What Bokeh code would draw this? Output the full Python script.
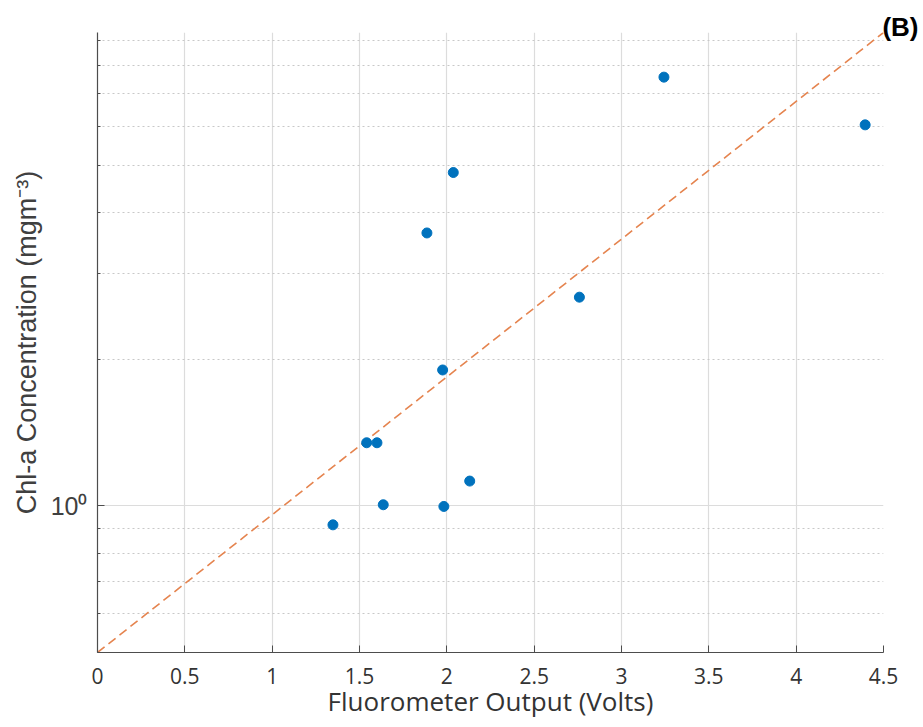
from bokeh.plotting import figure
from bokeh.models import FixedTicker, Range1d, Title
from bokeh.embed import file_html
from bokeh.resources import INLINE

# ---- data ----
volts = [1.348, 1.541, 1.600, 1.636, 1.886, 1.976, 1.983, 2.037, 2.131, 2.759, 3.243, 4.395]
chla = [0.914, 1.347, 1.347, 1.005, 3.63, 1.90, 0.997, 4.83, 1.124, 2.68, 7.58, 6.05]

ref_x = [0.0, 4.5]
ref_y = [0.5, 9.36]

x_ticks = [0, 0.5, 1, 1.5, 2, 2.5, 3, 3.5, 4, 4.5]
x_tick_labels = ["0", "0.5", "1", "1.5", "2", "2.5", "3", "3.5", "4", "4.5"]
y_ticks = [1.0]
y_tick_labels = ["10\u2070"]
y_minor = [0.5, 0.6, 0.7, 0.8, 0.9, 2, 3, 4, 5, 6, 7, 8, 9]

x_title = "Fluorometer Output (Volts)"
y_title = "Chl-a Concentration (mgm\u207b\u00b3)"
panel_tag = "(B)"

p = figure(width=923, height=727, y_axis_type="log",
           x_range=Range1d(0, 4.5), y_range=Range1d(0.5, 9.36),
           output_backend="svg", toolbar_location=None)
p.min_border_left = 97
p.min_border_right = 40
p.min_border_top = 32
p.min_border_bottom = 75
p.outline_line_color = None
p.background_fill_color = "white"
p.border_fill_color = "white"

# panel tag as a right-aligned title
p.title = Title(text=panel_tag, align="right", offset=-35, standoff=-18,
                text_font="Liberation Sans", text_font_size="26px",
                text_font_style="bold", text_color="black")

# tickers
xt = FixedTicker(ticks=x_ticks, minor_ticks=[])
yt = FixedTicker(ticks=y_ticks, minor_ticks=y_minor)
p.xaxis.ticker = xt
p.xgrid.ticker = xt
p.yaxis.ticker = yt
p.ygrid.ticker = yt
p.xaxis.major_label_overrides = {t: l for t, l in zip(x_ticks, x_tick_labels)}
p.yaxis.major_label_overrides = {t: l for t, l in zip(y_ticks, y_tick_labels)}

axis_col = "#4d4d4d"
for ax in (p.xaxis, p.yaxis):
    ax.axis_line_color = axis_col
    ax.axis_line_width = 1.2
    ax.major_tick_line_color = axis_col
    ax.minor_tick_line_color = axis_col
    ax.major_tick_in = 7
    ax.major_tick_out = 0
    ax.minor_tick_out = 0

p.xaxis.minor_tick_in = 0
p.yaxis.minor_tick_in = 3

p.xaxis.major_label_text_font = "Open Sans"
p.xaxis.major_label_text_font_size = "21px"
p.xaxis.major_label_text_color = "#333333"
p.xaxis.major_label_standoff = 15
p.xaxis.axis_label = x_title
p.xaxis.axis_label_text_font = "Open Sans"
p.xaxis.axis_label_text_font_size = "26px"
p.xaxis.axis_label_text_font_style = "normal"
p.xaxis.axis_label_text_color = "#333333"
p.xaxis.axis_label_standoff = -4

p.yaxis.major_label_text_font = "Liberation Sans"
p.yaxis.major_label_text_font_size = "25px"
p.yaxis.major_label_text_color = "#404040"
p.yaxis.major_label_standoff = 10
p.yaxis.axis_label = y_title
p.yaxis.axis_label_text_font = "Liberation Sans"
p.yaxis.axis_label_text_font_size = "27px"
p.yaxis.axis_label_text_font_style = "normal"
p.yaxis.axis_label_text_color = "#404040"
p.yaxis.axis_label_standoff = 6

# grids
p.xgrid.grid_line_color = "#dcdcdc"
p.xgrid.grid_line_width = 1.2
p.ygrid.grid_line_color = "#dcdcdc"
p.ygrid.grid_line_width = 1.2
p.ygrid.minor_grid_line_color = "#c8c8c8"
p.ygrid.minor_grid_line_dash = "2 3"
p.ygrid.minor_grid_line_width = 1

# marks
p.line(ref_x, ref_y, line_color="#E5844F", line_width=1.6, line_dash="9 5")
p.scatter(volts, chla, size=10, fill_color="#0072BD", line_color="#0072BD")

open("out.html", "w").write(file_html(p, INLINE))
